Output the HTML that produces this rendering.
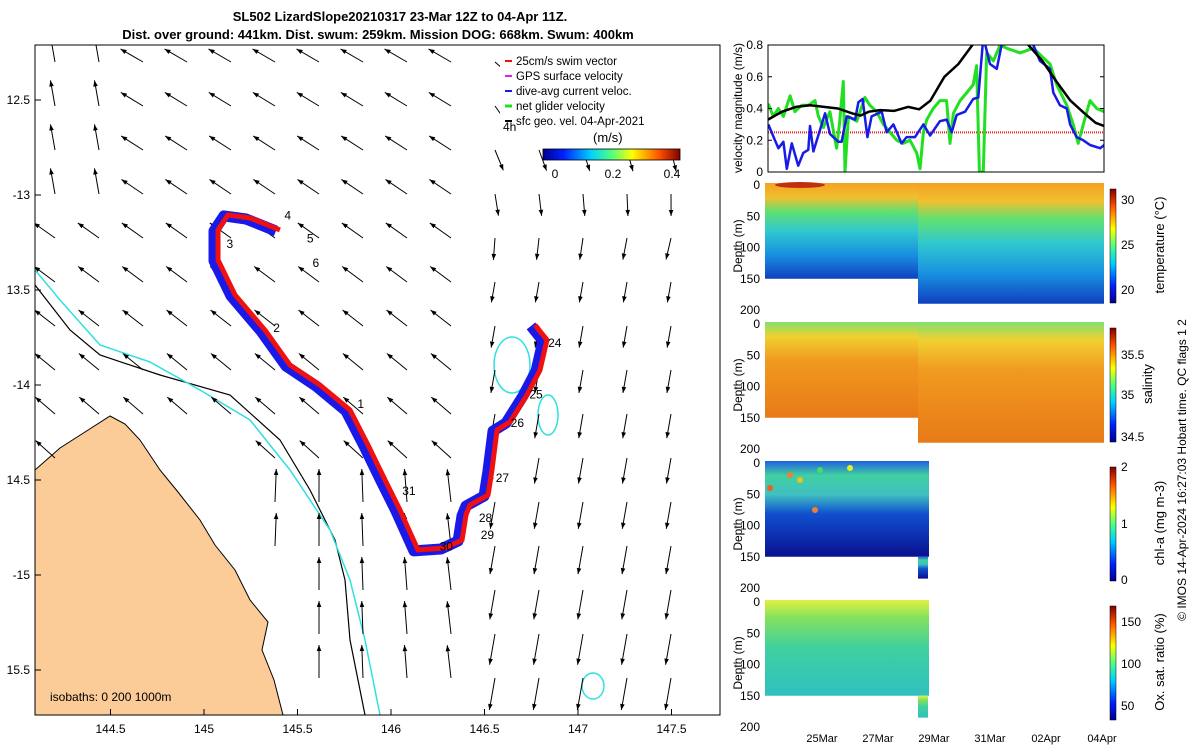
<!DOCTYPE html>
<html><head><meta charset="utf-8"><style>
body{margin:0;background:#fff;font-family:"Liberation Sans",sans-serif}
svg text{font-family:"Liberation Sans",sans-serif}
</style></head><body>
<svg id="s" width="1200" height="750" viewBox="0 0 1200 750">
<defs>
<linearGradient id="jet" x1="0" x2="1" y1="0" y2="0">
<stop offset="0" stop-color="#00008f"/><stop offset=".15" stop-color="#0020ff"/><stop offset=".35" stop-color="#00d0ff"/><stop offset=".5" stop-color="#50ff80"/><stop offset=".65" stop-color="#ffff00"/><stop offset=".85" stop-color="#ff5000"/><stop offset="1" stop-color="#800000"/></linearGradient>
<linearGradient id="jetv" x1="0" x2="0" y1="1" y2="0">
<stop offset="0" stop-color="#00008f"/><stop offset=".15" stop-color="#0020ff"/><stop offset=".35" stop-color="#00d0ff"/><stop offset=".5" stop-color="#50ff80"/><stop offset=".65" stop-color="#ffff00"/><stop offset=".85" stop-color="#ff5000"/><stop offset="1" stop-color="#800000"/></linearGradient>
<linearGradient id="gT" x1="0" x2="0" y1="0" y2="1"><stop offset="0" stop-color="#f5a020"/><stop offset=".15" stop-color="#f0c030"/><stop offset=".3" stop-color="#60e070"/><stop offset=".5" stop-color="#30c8d0"/><stop offset=".75" stop-color="#1890e0"/><stop offset="1" stop-color="#1040c0"/></linearGradient>
<linearGradient id="gS" x1="0" x2="0" y1="0" y2="1"><stop offset="0" stop-color="#80e070"/><stop offset=".15" stop-color="#f0d030"/><stop offset=".4" stop-color="#f09a20"/><stop offset="1" stop-color="#e87a18"/></linearGradient>
<linearGradient id="gC" x1="0" x2="0" y1="0" y2="1"><stop offset="0" stop-color="#2060e0"/><stop offset=".15" stop-color="#40d0a0"/><stop offset=".35" stop-color="#40c0c0"/><stop offset=".55" stop-color="#1050d0"/><stop offset="1" stop-color="#0a1090"/></linearGradient>
<linearGradient id="gO" x1="0" x2="0" y1="0" y2="1"><stop offset="0" stop-color="#e0f040"/><stop offset=".2" stop-color="#80e060"/><stop offset=".5" stop-color="#40d0a0"/><stop offset="1" stop-color="#30c0c0"/></linearGradient>
<clipPath id="mapclip"><rect x="35" y="45" width="685" height="670"/></clipPath>
<clipPath id="velclip"><rect x="768" y="45" width="336" height="127"/></clipPath>
</defs>
<text x="400" y="21" text-anchor="middle" font-size="13" font-weight="bold">SL502 LizardSlope20210317 23-Mar 12Z to 04-Apr 11Z.</text>
<text x="378" y="39" text-anchor="middle" font-size="13" font-weight="bold">Dist. over ground: 441km. Dist. swum: 259km. Mission DOG: 668km. Swum: 400km</text>
<g id="map"></g>
<g id="right"></g>
<text transform="translate(1186,470) rotate(-90)" text-anchor="middle" font-size="12">© IMOS 14-Apr-2024 16:27:03 Hobart time. QC flags 1  2</text>
</svg>
<script>
const NS="http://www.w3.org/2000/svg";
function mk(p,t,a,txt){const e=document.createElementNS(NS,t);for(const k in a)e.setAttribute(k,a[k]);if(txt!=null)e.textContent=txt;p.appendChild(e);return e;}
// ---- map data ----
const lonTicks=[144.5,145,145.5,146,146.5,147,147.5];
const latTicks=[-12.5,-13,-13.5,-14,-14.5,-15,-15.5];
const latLabels=["12.5","-13","13.5","-14","14.5","-15","15.5"];
const trackLon=[145.406,145.246,145.128,145.075,145.075,145.166,145.326,145.460,145.620,145.781,145.877,145.968,146.048,146.144,146.289,146.380,146.401,146.422,146.519,146.540,146.567,146.636,146.727,146.797,146.834,146.770];
const trackLat=[-13.184,-13.121,-13.105,-13.184,-13.342,-13.526,-13.711,-13.895,-14.0,-14.132,-14.316,-14.5,-14.658,-14.868,-14.858,-14.816,-14.684,-14.632,-14.579,-14.447,-14.237,-14.195,-14.053,-13.921,-13.763,-13.684];
const dayLabels=["4","3","5","6","2","1","31","30","29","28","27","26","25","24"];
const dayLon=[145.43,145.12,145.55,145.58,145.37,145.82,146.06,146.26,146.48,146.47,146.56,146.64,146.74,146.84];
const dayLat=[-13.13,-13.28,-13.25,-13.38,-13.72,-14.12,-14.58,-14.87,-14.81,-14.72,-14.51,-14.22,-14.07,-13.8];
const X=l=>391+(l-146)*187, Y=l=>385-(l+14)*190;
const map=document.getElementById('map');
const mg=mk(map,'g',{'clip-path':'url(#mapclip)'});
const land=mk(mg,'path',{d:"M35,470 L60,448 L85,432 L110,416 L125,424 L140,440 L160,470 L178,492 L200,520 L215,545 L235,570 L250,600 L268,622 L262,650 L274,680 L283,715 L35,715 Z",fill:"#fbcb98",stroke:"#000","stroke-width":"1"});

const iso1=mk(mg,'path',{d:"M35,285 L70,330 L100,355 L160,375 L230,395 L280,440 L310,490 L335,540 L345,580 L350,640 L365,715",fill:"none",stroke:"#000","stroke-width":"1.2"});

const iso2=mk(mg,'path',{d:"M35,270 L60,300 L100,345 L150,362 L200,390 L250,420 L290,470 L330,530 L350,580 L365,640 L380,715",fill:"none",stroke:"#30e0e0","stroke-width":"1.5"});

mk(mg,'ellipse',{cx:512,cy:365,rx:18,ry:28,fill:"none",stroke:"#30e0e0","stroke-width":"1.5"});
mk(mg,'ellipse',{cx:548,cy:415,rx:10,ry:20,fill:"none",stroke:"#30e0e0","stroke-width":"1.5"});
mk(mg,'ellipse',{cx:593,cy:686,rx:11,ry:13,fill:"none",stroke:"#30e0e0","stroke-width":"1.5"});
for(let gx=55;gx<715;gx+=44){for(let gy=62;gy<715;gy+=44){
  if(gy>470-(gx-35)*0.4&&gx<270+ (gy-470)*0.05 && gy>440) continue;
  let ang,len;
  if(gx<480&&gy<470){ang=-150+(gy-60)*0.03;len=26;}
  else if(gx>=480&&gy<260){ang=100+(gx-480)*0.05-(260-gy)*0.3;len=22;}
  else if(gx>=480){ang=100;len=20+(gy-260)*0.03;}
  else {ang=-95+(420-gx)*0.05;len=33;}
  if(gx<140&&gy<200) ang=-100;
  const r=ang*Math.PI/180,x2=gx+len*Math.cos(r),y2=gy+len*Math.sin(r);
  const ar=mk(mg,'g',{});
  
  
  mk(ar,'line',{x1:gx,y1:gy,x2:x2,y2:y2,stroke:"#000","stroke-width":"1"});
  const hx=x2-6*Math.cos(r),hy=y2-6*Math.sin(r),px=2.3*Math.sin(r),py=-2.3*Math.cos(r);
  mk(ar,'polygon',{points:`${x2},${y2} ${hx+px},${hy+py} ${hx-px},${hy-py}`,fill:"#000"});
}}
let dB="",dR="";
trackLon.forEach((l,i)=>{dB+=(i?"L":"M")+(X(l)-4)+","+(Y(trackLat[i])+1)+" ";dR+=(i?"L":"M")+X(l)+","+Y(trackLat[i])+" ";});
const tb=mk(mg,'path',{d:dB,fill:"none",stroke:"#1a1ae8","stroke-width":"11","stroke-linejoin":"round"});

const tr=mk(mg,'path',{d:dR,fill:"none",stroke:"#f01010","stroke-width":"5","stroke-linejoin":"round"});

dayLabels.forEach((t,i)=>{const e=mk(map,'text',{x:X(dayLon[i]),y:Y(dayLat[i]),"font-size":"12"},t);
});
mk(map,'rect',{x:35,y:45,width:685,height:670,fill:"none",stroke:"#000"});
lonTicks.forEach(l=>{mk(map,'line',{x1:X(l),x2:X(l),y1:715,y2:709,stroke:"#000"});
 const e=mk(map,'text',{x:X(l),y:733,"text-anchor":"middle","font-size":"12"},String(l));
 });
latTicks.forEach((l,i)=>{mk(map,'line',{x1:35,x2:41,y1:Y(l),y2:Y(l),stroke:"#000"});
 const e=mk(map,'text',{x:30,y:Y(l)+4,"text-anchor":"end","font-size":"12"},latLabels[i]);
 });
mk(map,'text',{x:50,y:701,"font-size":"12"},"isobaths: 0   200  1000m");
const lg=mk(map,'g',{});

mk(lg,'rect',{x:500,y:52,width:190,height:80,fill:"#fff"});
const legItems=[["25cm/s swim vector","#f01010"],["GPS surface velocity","#e020e0"],["dive-avg current veloc.","#1a1ae8"],["net glider velocity","#20e020"],["sfc geo. vel. 04-Apr-2021","#000"]];
legItems.forEach((it,i)=>{const y=65+i*15;mk(lg,'line',{x1:505,x2:512,y1:y-4,y2:y-4,stroke:it[1],"stroke-width":i==3?3:2});mk(lg,'text',{x:516,y:y,"font-size":"11.5"},it[0]);});
mk(lg,'text',{x:503,y:131,"font-size":"12"},"4h");
mk(lg,'text',{x:593,y:142,"font-size":"13"},"(m/s)");
mk(lg,'rect',{x:543,y:149,width:137,height:11,fill:"url(#jet)",stroke:"#000","stroke-width":".8"});
[["0",555],["0.2",613],["0.4",672]].forEach(a=>mk(lg,'text',{x:a[1],y:178,"text-anchor":"middle","font-size":"12"},a[0]));
// ---- velocity panel ----
const blueT=[0.01,.25,.37,.55,.67,.85,1.08,1.26,1.44,1.5,1.62,2.04,2.21,2.51,2.63,2.81,3.11,3.23,3.38,3.55,3.7,4.06,4.24,4.48,4.77,4.95,5.25,5.55,5.79,6.14,6.38,6.56,6.74,7.04,7.33,7.51,7.69,7.93,8.17,8.4,9.36,9.71,10.07,10.19,10.43,10.67,10.79,11.02,11.26,11.5,11.86,12.01];
const blueV=[.3,.2,.15,.19,.02,.18,.04,.12,.14,.29,.13,.37,.24,.19,.19,.35,.33,.44,.46,.22,.35,.38,.25,.3,.18,.22,.22,.3,.23,.32,.33,.25,.36,.38,.46,.47,.85,.68,.65,.85,.85,.7,.65,.5,.42,.4,.3,.22,.2,.17,.15,.17];
const greenT=[0.01,.19,.37,.55,.79,.96,1.2,1.44,1.68,1.8,1.98,2.21,2.45,2.55,2.69,2.75,2.87,3.17,3.46,3.64,3.88,4.12,4.36,4.6,4.83,5.07,5.31,5.43,5.55,5.67,5.9,6.14,6.38,6.5,6.62,6.86,7.1,7.33,7.45,7.55,7.69,7.81,8.05,8.29,8.52,9.0,9.48,9.83,10.07,10.31,10.67,10.9,11.08,11.26,11.5,11.74,12.01];
const greenV=[.43,.35,.4,.35,.48,.38,.42,.42,.45,.35,.28,.38,.15,.3,.57,0,.35,.32,.47,.42,.38,.3,.25,.2,.18,.2,.12,.02,.25,.33,.4,.45,.45,.18,.37,.45,.5,.55,.67,0,0,.75,.7,.8,.78,.75,.78,.72,.68,.55,.42,.3,.18,.3,.45,.4,.38];
const blackT=[0,.5,1,1.5,2,2.5,3,3.3,3.6,4,4.5,5,5.4,5.8,6.3,6.8,7.3,8,9,9.3,9.8,10.3,10.8,11.3,11.7,12];
const blackV=[.33,.38,.41,.42,.41,.40,.37,.355,.38,.39,.385,.41,.395,.45,.6,.68,.8,.9,.9,.8,.7,.57,.45,.37,.31,.29];
const swimV=0.25;
const velTicks=[0,0.2,0.4,0.6,0.8];
const TX=t=>768+t*28, VY=v=>172-v/0.8*127;
const R=document.getElementById('right');
const vc=mk(R,'g',{'clip-path':'url(#velclip)'});
function line(ts,vs,col,w,name){let d="";ts.forEach((t,i)=>d+=(i?"L":"M")+TX(t).toFixed(1)+","+VY(vs[i]).toFixed(1));
 const e=mk(vc,'path',{d:d,fill:"none",stroke:col,"stroke-width":w,"stroke-linejoin":"round"});
 }
const sw=mk(vc,'line',{x1:768,x2:1104,y1:VY(swimV),y2:VY(swimV),stroke:"#f02020","stroke-width":"2","stroke-dasharray":"1,1"});

line(greenT,greenV,"#20e020",3,"net-glider-velocity-line");
line(blueT,blueV,"#1a1ae8",2.5,"dive-avg-current-line");
line(blackT,blackV,"#000",2.5,"sfc-geo-velocity-line");
mk(R,'rect',{x:768,y:45,width:336,height:127,fill:"none",stroke:"#000"});
velTicks.forEach(v=>{mk(R,'line',{x1:768,x2:772,y1:VY(v),y2:VY(v),stroke:"#000"});mk(R,'line',{x1:1100,x2:1104,y1:VY(v),y2:VY(v),stroke:"#000"});
 const e=mk(R,'text',{x:763,y:VY(v)+4,"text-anchor":"end","font-size":"12"},String(v));
 });
mk(R,'text',{transform:"translate(742,108) rotate(-90)","text-anchor":"middle","font-size":"12"},"velocity magnitude (m/s)");
// ---- depth panels ----
const panels=[{top:183,fill:"url(#gT)",end:1104,label:"temperature (°C)",cb:["30","25","20"],cbY:[200,245,290],name:"temperature"},
 {top:322,fill:"url(#gS)",end:1104,label:"salinity",cb:["35.5","35","34.5"],cbY:[355,395,437],name:"salinity"},
 {top:461,fill:"url(#gC)",end:929,label:"chl-a (mg m-3)",cb:["2","1","0"],cbY:[467,524,580],name:"chlorophyll"},
 {top:600,fill:"url(#gO)",end:929,label:"Ox. sat. ratio (%)",cb:["150","100","50"],cbY:[622,664,706],name:"oxygen"}];
const depthTicks=[0,50,100,150,200];
const dateLabels=["25Mar","27Mar","29Mar","31Mar","02Apr","04Apr"];
const dateDays=[1.5,3.5,5.5,7.5,9.5,11.5];
panels.forEach(p=>{const g=mk(R,'g',{});
 
 const D=d=>p.top+2+d*0.625;
 mk(g,'rect',{x:765,y:p.top,width:918-765,height:D(150)-p.top,fill:p.fill});
 mk(g,'rect',{x:918,y:p.top,width:p.end-918,height:(p.end>1000?D(190):D(150))-p.top,fill:p.fill});
 if(p.end<1000) mk(g,'rect',{x:918,y:D(150),width:10,height:D(185)-D(150),fill:p.fill});
 if(p.name=="chlorophyll"){[[790,475,'#f08030'],[800,480,'#f0c020'],[820,470,'#40e060'],[850,468,'#e0f020'],[770,488,'#f06020'],[815,510,'#f08030']].forEach(c=>mk(g,'circle',{cx:c[0],cy:c[1],r:3,fill:c[2]}));}
 if(p.name=="temperature") mk(g,'ellipse',{cx:800,cy:185,rx:25,ry:3,fill:"#c03010"});
 depthTicks.forEach(d=>{const e=mk(g,'text',{x:760,y:D(d)+4,"text-anchor":"end","font-size":"12"},String(d));
  });
 mk(g,'text',{transform:`translate(742,${p.top+63}) rotate(-90)`,"text-anchor":"middle","font-size":"12"},"Depth (m)");
 mk(g,'rect',{x:1110,y:p.top+6,width:6,height:114,fill:"url(#jetv)",stroke:"#000","stroke-width":".5"});
 p.cb.forEach((c,i)=>mk(g,'text',{x:1121,y:p.cbY[i]+4,"font-size":"12"},c));
 mk(g,'text',{transform:`translate(${p.name=="salinity"?1152:1164},${p.top+62}) rotate(-90)`,"text-anchor":"middle","font-size":"13"},p.label);
});
dateDays.forEach((d,i)=>{const e=mk(R,'text',{x:TX(d)+12,y:742,"text-anchor":"middle","font-size":"11"},dateLabels[i]);
 });
</script>
</body></html>
